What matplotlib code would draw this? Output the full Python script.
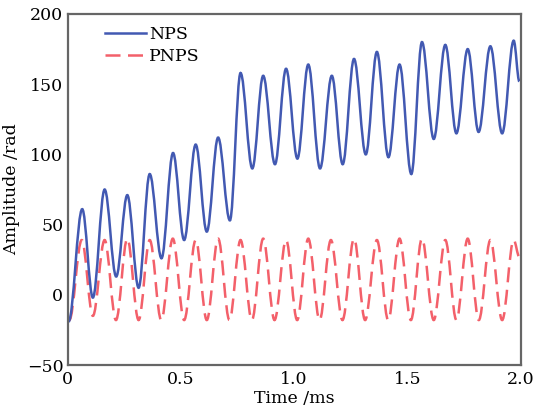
import matplotlib
matplotlib.use("Agg")
import matplotlib.pyplot as plt
from matplotlib.path import Path
from matplotlib.patches import PathPatch
from matplotlib.lines import Line2D

# peaks / troughs (time in ms, amplitude in rad)
nps_t = [0.005, 0.065, 0.112, 0.164, 0.215, 0.264, 0.314, 0.363, 0.415, 0.466,
         0.515, 0.566, 0.615, 0.665, 0.717, 0.764, 0.816, 0.864, 0.916, 0.965,
         1.015, 1.063, 1.115, 1.167, 1.215, 1.265, 1.317, 1.366, 1.417, 1.466,
         1.518, 1.565, 1.617, 1.668, 1.717, 1.767, 1.815, 1.867, 1.919, 1.970, 1.995]
nps_v = [-19, 61, -2, 75, 13, 71, 5, 86, 26, 101,
         39, 107, 45, 112, 53, 158, 90, 156, 93, 161,
         97, 164, 90, 156, 93, 168, 100, 173, 98, 164,
         86, 180, 111, 178, 115, 175, 116, 177, 115, 181, 152]

pnps_t = [0.008, 0.063, 0.112, 0.164, 0.214, 0.264, 0.314, 0.363, 0.414, 0.465,
          0.515, 0.566, 0.615, 0.665, 0.715, 0.764, 0.814, 0.864, 0.914, 0.965,
          1.014, 1.063, 1.113, 1.163, 1.214, 1.265, 1.314, 1.366, 1.416, 1.466,
          1.516, 1.565, 1.617, 1.668, 1.717, 1.767, 1.816, 1.867, 1.919, 1.970, 1.995]
pnps_v = [-18, 39, -15, 39, -18, 40, -18, 39, -18, 40,
          -18, 39, -18, 40, -18, 39, -18, 40, -18, 39,
          -18, 40, -18, 39, -18, 40, -18, 39, -18, 40,
          -18, 40, -18, 39, -18, 40, -18, 39, -18, 39, 27]

blue = '#4259b2'
red = '#f3606a'
dash = (0, (6, 3))


def wave_path(t, v, k=0.36):
    # smooth bezier segments between successive extrema (flat at each extremum)
    verts = [(t[0], v[0])]
    codes = [Path.MOVETO]
    for i in range(1, len(t)):
        dt = t[i] - t[i - 1]
        verts += [(t[i - 1] + k * dt, v[i - 1]), (t[i] - k * dt, v[i]), (t[i], v[i])]
        codes += [Path.CURVE4] * 3
    return Path(verts, codes)


plt.rcParams['font.family'] = 'DejaVu Serif'
plt.rcParams['font.size'] = 12.5

fig = plt.figure(figsize=(5.33, 4.16), dpi=100)
ax = fig.add_axes([67.5 / 533, 1 - 365 / 416, 453 / 533, 351 / 416])

ax.add_patch(PathPatch(wave_path(pnps_t, pnps_v), fill=False, edgecolor=red,
                       lw=1.8, linestyle=dash))
ax.add_patch(PathPatch(wave_path(nps_t, nps_v), fill=False, edgecolor=blue, lw=1.8))

ax.set_xlim(0, 2.0)
ax.set_ylim(-50, 200)
ax.set_xticks([0, 0.5, 1.0, 1.5, 2.0])
ax.set_xticklabels(['0', '0.5', '1.0', '1.5', '2.0'])
ax.set_yticks([-50, 0, 50, 100, 150, 200])
ax.tick_params(length=0, pad=4)
ax.tick_params(axis='y', pad=3)
for s in ax.spines.values():
    s.set_color('#666666')
    s.set_linewidth(1.6)

ax.set_xlabel('Time /ms', labelpad=2)
ax.set_ylabel('Amplitude /rad', labelpad=5)

handles = [Line2D([], [], color=blue, lw=1.8),
           Line2D([], [], color=red, lw=1.8, linestyle=dash)]
ax.legend(handles, ['NPS', 'PNPS'], loc='upper left', frameon=False,
          handlelength=2.4, handletextpad=0.15, labelspacing=0.3,
          borderaxespad=0.3, bbox_to_anchor=(0.055, 1.0))

fig.savefig('out.png', dpi=100)
